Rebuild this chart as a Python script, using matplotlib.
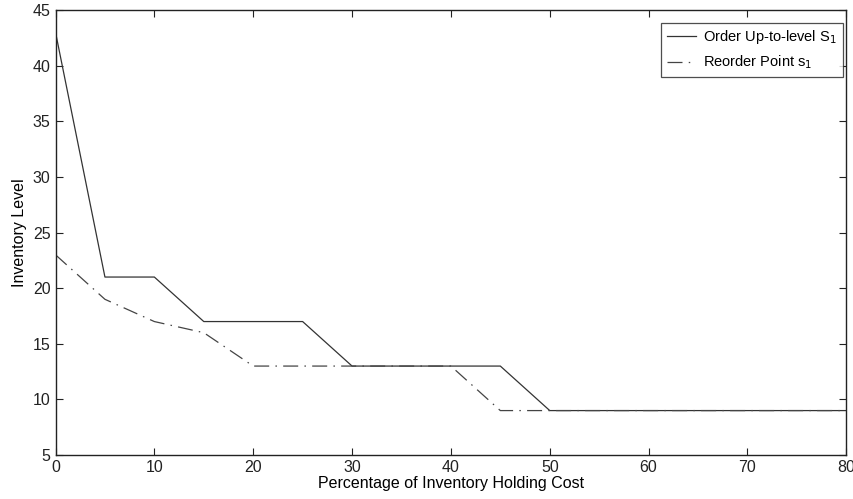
import matplotlib
matplotlib.use("Agg")
import matplotlib.pyplot as plt

plt.rcParams['font.family'] = ['Liberation Sans', 'DejaVu Sans']

# holding cost percentage
cost = [0, 5, 10, 15, 20, 25, 30, 35, 40, 45, 50, 55, 60, 65, 70, 75, 80]
# order up-to-level S1
S1 = [43, 21, 21, 17, 17, 17, 13, 13, 13, 13, 9, 9, 9, 9, 9, 9, 9]
# reorder point s1
s1 = [23, 19, 17, 16, 13, 13, 13, 13, 13, 9, 9, 9, 9, 9, 9, 9, 9]

fig = plt.figure(figsize=(8.54, 4.99), dpi=100)
ax = fig.add_axes([0.065, 0.088, 0.926, 0.892])

ax.plot(cost, S1, color='#333333', lw=0.9, ls='-', label='Order Up-to-level S$_1$')
ax.plot(cost, s1, color='#444444', lw=0.9, ls=(0, (12, 5, 1.2, 5)), label='Reorder Point s$_1$')

ax.set_xlim(0, 80)
ax.set_ylim(5, 45)
ax.set_xticks(range(0, 81, 10))
ax.set_yticks(range(5, 46, 5))
ax.tick_params(direction='in', length=5, labelsize=11.5, colors='#222222', top=True, right=True,
               labeltop=False, labelright=False)
for sp in ax.spines.values():
    sp.set_linewidth(1.0)
    sp.set_color('#222222')

ax.set_xlabel('Percentage of Inventory Holding Cost', fontsize=11.5, labelpad=1)
ax.set_ylabel('Inventory Level', fontsize=11.5, labelpad=4)

leg = ax.legend(loc='upper right', fontsize=10.5, frameon=True, fancybox=False,
                edgecolor='#222222', handlelength=2.0, handletextpad=0.5,
                borderaxespad=0.25, bbox_to_anchor=(1.0, 0.98))
leg.get_frame().set_linewidth(0.9)

fig.savefig('out.png', dpi=100)
